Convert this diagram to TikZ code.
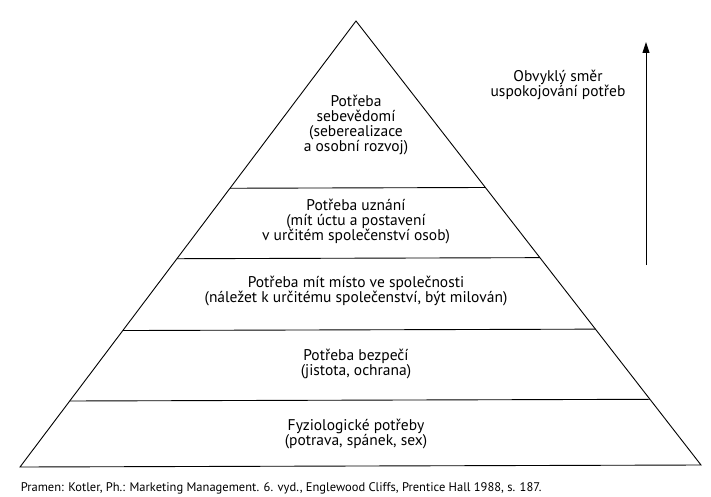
\documentclass[tikz,border=0pt]{standalone}
\usepackage{fontspec}
\setmainfont{PT Sans}
\usetikzlibrary{calc,arrows.meta}

\begin{document}
\begin{tikzpicture}[x=1pt,y=-1pt,line width=0.9pt,
    level/.style={align=center,font=\fontsize{15.5}{15}\selectfont}]
    \useasboundingbox (0,0) rectangle (711,497);
    \coordinate (top) at (356,21);
    \coordinate (bl) at (20,467);
    \coordinate (br) at (701,465);
    \draw (top) -- (bl) -- (br) -- cycle;
    \foreach \t/\n in {0.375/a,0.533/b,0.694/c,0.852/d}
        \draw ($(top)!\t!(bl)$) coordinate (l\n) -- ($(top)!\t!(br)$) coordinate (r\n);
    \node[level] (self) at (356,125) {Potřeba\\sebevědomí\\(seberealizace\\a osobní rozvoj)};
    \node[level] (esteem) at (356,222) {Potřeba uznání\\(mít úctu a postavení\\v určitém společenství osob)};
    \node[level] (belong) at (356,291) {Potřeba mít místo ve společnosti\\(náležet k určitému společenství, být milován)};
    \node[level] (safety) at (356,364) {Potřeba bezpečí\\(jistota, ochrana)};
    \node[level] (body) at (356,434) {Fyziologické potřeby\\(potrava, spánek, sex)};
    \coordinate (from) at (646,265);
    \coordinate (to) at (646,42);
    \draw[-{Triangle[length=11pt,width=7pt]}] (from) -- (to);
    \node[level] (dir) at (558,85) {Obvyklý směr\\uspokojování potřeb};
    \node[anchor=west,font=\fontsize{12.5}{14}\selectfont] (src) at (17,488)
        {Pramen: Kotler, Ph.: Marketing Management. 6. vyd., Englewood Cliffs, Prentice Hall 1988, s. 187.};
\end{tikzpicture}
\end{document}
